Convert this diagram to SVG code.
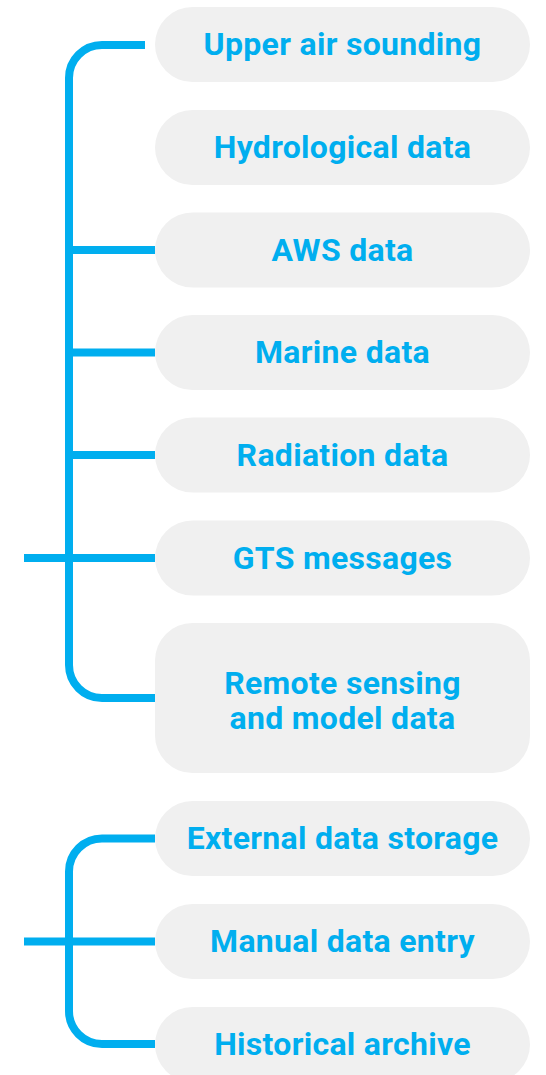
<svg xmlns="http://www.w3.org/2000/svg" width="546" height="1075" viewBox="0 0 546 1075">
<style>
.pill{fill:#f0f0f0}
.lbl{font-family:Roboto,"Liberation Sans",sans-serif;font-weight:700;font-size:32px;letter-spacing:0.3px;fill:#00aeef;text-anchor:middle}
.con{fill:none;stroke:#00aeef;stroke-width:8}
</style>
<rect width="546" height="1075" fill="#ffffff"/>
<g id="connectors">
<path class="con" d="M145,45 H102 A33,33 0 0 0 69,78 V665 A33,33 0 0 0 102,698 H155"/>
<path class="con" d="M69,250 H155 M69,352.5 H155 M69,455 H155 M24,558 H155"/>
<path class="con" d="M155,838.5 H102 A33,33 0 0 0 69,871.5 V1011 A33,33 0 0 0 102,1044 H155"/>
<path class="con" d="M24,941.5 H155"/>
</g>
<g id="n1"><rect class="pill" x="155" y="7" width="375" height="75" rx="37.5"/><text class="lbl" x="342.5" y="55">Upper air sounding</text></g>
<g id="n2"><rect class="pill" x="155" y="110" width="375" height="75" rx="37.5"/><text class="lbl" x="342.5" y="158">Hydrological data</text></g>
<g id="n3"><rect class="pill" x="155" y="212.5" width="375" height="75" rx="37.5"/><text class="lbl" x="342.5" y="260.5">AWS data</text></g>
<g id="n4"><rect class="pill" x="155" y="315" width="375" height="75" rx="37.5"/><text class="lbl" x="342.5" y="363">Marine data</text></g>
<g id="n5"><rect class="pill" x="155" y="417.5" width="375" height="75" rx="37.5"/><text class="lbl" x="342.5" y="465.5">Radiation data</text></g>
<g id="n6"><rect class="pill" x="155" y="520.5" width="375" height="75" rx="37.5"/><text class="lbl" x="342.5" y="568.5">GTS messages</text></g>
<g id="n7"><rect class="pill" x="155" y="623" width="375" height="150" rx="37.5"/><text class="lbl" x="342.5" y="693.5">Remote sensing</text><text class="lbl" x="342.5" y="728.5">and model data</text></g>
<g id="n8"><rect class="pill" x="155" y="801" width="375" height="75" rx="37.5"/><text class="lbl" x="342.5" y="849">External data storage</text></g>
<g id="n9"><rect class="pill" x="155" y="904" width="375" height="75" rx="37.5"/><text class="lbl" x="342.5" y="952">Manual data entry</text></g>
<g id="n10"><rect class="pill" x="155" y="1007" width="375" height="75" rx="37.5"/><text class="lbl" x="342.5" y="1055">Historical archive</text></g>
</svg>
